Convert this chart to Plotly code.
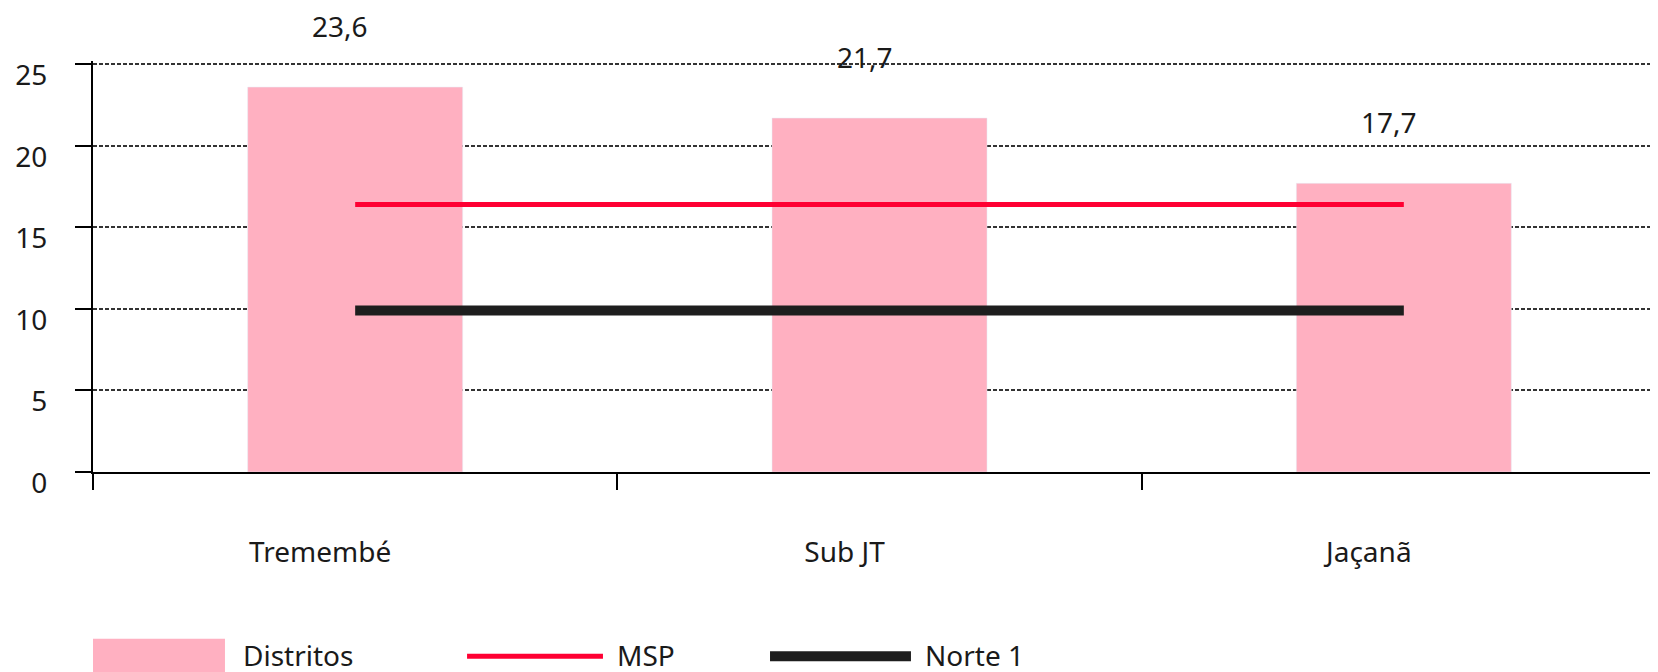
import plotly.graph_objects as go

distritos = ["Tremembé", "Sub JT", "Jaçanã"]
valores = [23.6, 21.7, 17.7]
msp = [16.4, 16.4, 16.4]
norte1 = [9.9, 9.9, 9.9]
yticks = [0, 5, 10, 15, 20, 25]

rosa = "#FFB0C1"
vermelho = "#FF0033"
preto = "#1E1E1E"
fonte = "Noto Sans, sans-serif"

fig = go.Figure(
    data=[
        go.Bar(x=distritos, y=valores, name="Distritos", marker_color=rosa, width=0.41),
        go.Scatter(x=distritos, y=msp, name="MSP", mode="lines",
                   line=dict(color=vermelho, width=5)),
        go.Scatter(x=distritos, y=norte1, name="Norte 1", mode="lines",
                   line=dict(color=preto, width=10)),
    ],
    layout=go.Layout(
        width=1658,
        height=672,
        margin=dict(l=85, r=0, t=53, b=208),
        plot_bgcolor="white",
        paper_bgcolor="white",
        font=dict(family=fonte, size=28, color="#1a1a1a"),
        showlegend=False,
        xaxis=dict(
            type="category",
            range=[-0.5, 2.5],
            showline=True,
            linecolor="black",
            linewidth=2,
            ticks="outside",
            tickson="boundaries",
            ticklen=16,
            tickwidth=2,
            tickcolor="black",
            showgrid=False,
            ticklabelstandoff=54,
            ticklabelshift=-35,
        ),
        yaxis=dict(
            range=[0, 25.2],
            tickvals=yticks,
            showline=True,
            linecolor="black",
            linewidth=2,
            ticks="outside",
            ticklen=16,
            tickwidth=2,
            tickcolor="black",
            showgrid=True,
            gridcolor="#333333",
            gridwidth=1.5,
            griddash="4px,2px",
            zeroline=False,
            ticklabelstandoff=22,
            ticklabelshift=11,
        ),
    ),
)

# rótulos dos valores
for d, v in zip(distritos, valores):
    fig.add_annotation(x=d, y=v, text=f"{v:.1f}".replace(".", ","),
                       showarrow=False, xshift=-15, yshift=61)

# legenda desenhada à mão (como no original)
fig.add_shape(type="rect", xref="paper", yref="paper", x0=0, x1=0.0839,
              y0=-0.50, y1=-0.406, fillcolor=rosa, line_width=0)
fig.add_shape(type="line", xref="paper", yref="paper", x0=0.2378, x1=0.3242,
              y0=-0.448, y1=-0.448, line=dict(color=vermelho, width=5))
fig.add_shape(type="line", xref="paper", yref="paper", x0=0.4304, x1=0.5200,
              y0=-0.448, y1=-0.448, line=dict(color=preto, width=10))
for nome, xpos in [("Distritos", 0.0941), ("MSP", 0.3319), ("Norte 1", 0.5277)]:
    fig.add_annotation(x=xpos, y=-0.446, xref="paper", yref="paper", text=nome,
                       showarrow=False, xanchor="left", yanchor="middle")

fig.write_html("out.html")
